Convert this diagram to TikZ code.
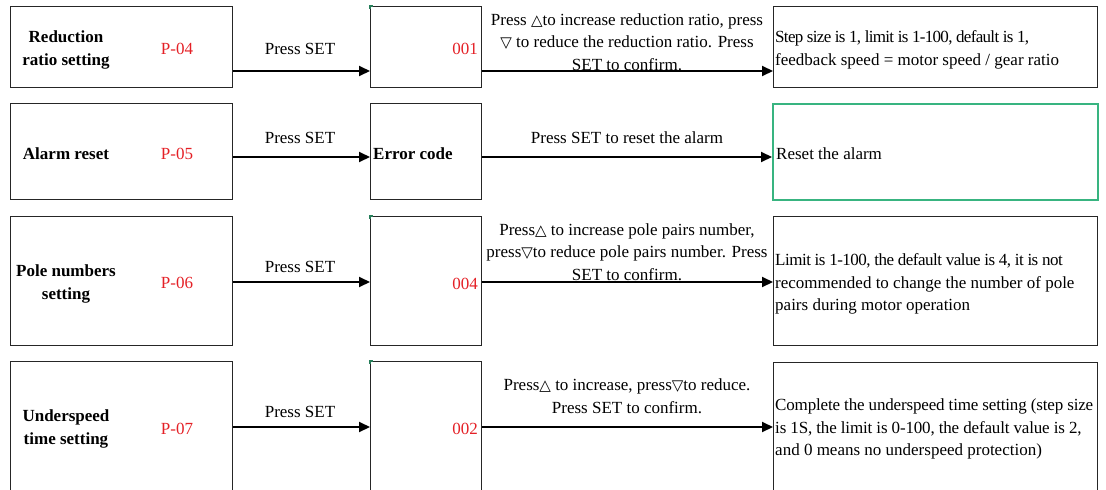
\documentclass[tikz,border=0pt]{standalone}
\usepackage{fontspec}
\setmainfont{Liberation Serif}
\newfontfamily\symf{DejaVu Sans}
\usetikzlibrary{arrows.meta}
\definecolor{pred}{RGB}{228,32,38}
\definecolor{bgreen}{RGB}{56,180,128}
\newcommand{\up}{{\symf\fontsize{15}{15}\selectfont △}}
\newcommand{\dn}{{\symf\fontsize{15}{15}\selectfont ▽}}
\newcommand{\tight}[2]{{\addfontfeature{LetterSpace=#1}#2}}
\begin{document}
\begin{tikzpicture}[x=1pt,y=-1pt,
  every node/.style={font=\fontsize{17}{22.5}\selectfont, inner sep=0pt},
  box/.style={draw=black!85, line width=0.8pt, anchor=north west, inner sep=0pt},
  gbox/.style={draw=bgreen, line width=2pt, anchor=north west, inner sep=0pt},
  lbl/.style={font=\fontsize{17}{22.5}\selectfont\bfseries, align=center},
  pcode/.style={text=pred},
  txt/.style={align=center},
  ltxt/.style={align=left, anchor=west},
  arr/.style={line width=2pt, -{Triangle[length=11pt,width=10pt]}},
  gmark/.style={draw=bgreen!70!black, line width=1.2pt}]
\useasboundingbox (0,0) rectangle (1106,490);
\clip (0,0) rectangle (1106,490);

% ---- Row 1
\node[box, minimum width=222pt, minimum height=81pt] (L1) at (10,6) {};
\node[box, minimum width=111pt, minimum height=81pt] (M1) at (370,6) {};
\node[box, minimum width=324pt, minimum height=81pt] (R1) at (773,6) {};
\node[lbl] (l1) at (66,50) {Reduction\\ratio setting};
\node[pcode] (p1) at (177,49) {P-04};
\node (s1) at (300,49) {Press SET};
\node[pcode, anchor=east] (v1) at (478,49) {001};
\node[txt] (m1) at (627,42) {Press \up to increase reduction ratio, press\\\dn\ to reduce the reduction ratio. Press\\SET to confirm.};
\node[ltxt] (r1) at (775,50) {\tight{-4}{Step size is 1, limit is 1-100, default is 1,}\\feedback speed = motor speed / gear ratio};
\coordinate (A1) at (0,71);
\draw[arr] (L1.east |- A1) -- (M1.west |- A1);
\draw[arr] (M1.east |- A1) -- (R1.west |- A1);

% ---- Row 2
\node[box, minimum width=222pt, minimum height=96pt] (L2) at (10,103) {};
\node[box, minimum width=111pt, minimum height=96pt] (M2) at (370,103) {};
\node[gbox, minimum width=325pt, minimum height=96pt] (R2) at (772,103) {};
\node[lbl] (l2) at (66,154) {Alarm reset};
\node[pcode] (p2) at (177,154) {P-05};
\node (s2) at (300,138) {Press SET};
\node[lbl, anchor=west] (v2) at (373,154) {Error code};
\node[txt] (m2) at (627,138) {Press SET to reset the alarm};
\node[ltxt] (r2) at (776,154) {Reset the alarm};
\coordinate (A2) at (0,157);
\draw[arr] (L2.east |- A2) -- (M2.west |- A2);
\draw[arr] (M2.east |- A2) -- (R2.west |- A2);

% ---- Row 3
\node[box, minimum width=222pt, minimum height=129pt] (L3) at (10,216) {};
\node[box, minimum width=111pt, minimum height=129pt] (M3) at (370,216) {};
\node[box, minimum width=324pt, minimum height=129pt] (R3) at (773,216) {};
\node[lbl] (l3) at (66,284) {Pole numbers\\setting};
\node[pcode] (p3) at (177,283) {P-06};
\node (s3) at (300,267) {Press SET};
\node[pcode, anchor=east] (v3) at (478,284) {004};
\node[txt] (m3) at (627,252) {Press\up\ to increase pole pairs number,\\press\dn to reduce pole pairs number. Press\\SET to confirm.};
\node[ltxt] (r3) at (775,284) {\tight{-3}{Limit is 1-100, the default value is 4, it is not}\\recommended to change the number of pole\\pairs during motor operation};
\coordinate (A3) at (0,282);
\draw[arr] (L3.east |- A3) -- (M3.west |- A3);
\draw[arr] (M3.east |- A3) -- (R3.west |- A3);

% ---- Row 4
\node[box, minimum width=222pt, minimum height=130pt] (L4) at (10,361) {};
\node[box, minimum width=111pt, minimum height=130pt] (M4) at (370,361) {};
\node[box, minimum width=324pt, minimum height=130pt] (R4) at (773,362) {};
\node[lbl] (l4) at (66,429) {Underspeed\\time setting};
\node[pcode] (p4) at (177,429) {P-07};
\node (s4) at (300,412) {Press SET};
\node[pcode, anchor=east] (v4) at (478,429) {002};
\node[txt] (m4) at (627,396) {Press\up\ to increase, press\dn to reduce.\\Press SET to confirm.};
\node[ltxt] (r4) at (775,429) {\tight{-1}{Complete the underspeed time setting (step size}\\\tight{-1}{is 1S, the limit is 0-100, the default value is 2,}\\and 0 means no underspeed protection)};
\coordinate (A4) at (0,427);
\draw[arr] (L4.east |- A4) -- (M4.west |- A4);
\draw[arr] (M4.east |- A4) -- (R4.west |- A4);

% small green corner marks
\draw[gmark] ([yshift=-3pt]M1.north west) -- (M1.north west) -- ([xshift=3pt]M1.north west);
\draw[gmark] ([yshift=-3pt]M3.north west) -- (M3.north west) -- ([xshift=3pt]M3.north west);
\draw[gmark] ([yshift=-3pt]M4.north west) -- (M4.north west) -- ([xshift=3pt]M4.north west);
\end{tikzpicture}
\end{document}
